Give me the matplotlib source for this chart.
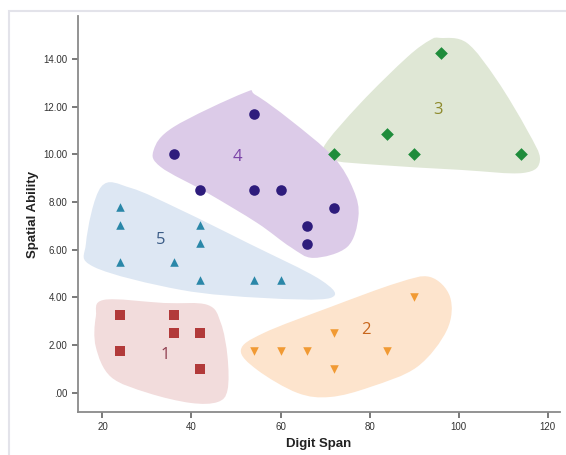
import numpy as np
import matplotlib
matplotlib.use("Agg")
import matplotlib.pyplot as plt
from matplotlib.path import Path
from matplotlib.patches import PathPatch, Rectangle
from matplotlib.ticker import FuncFormatter

# ---- data ----
c1_x = [24, 36, 36, 42, 24, 42]
c1_y = [3.25, 3.25, 2.5, 2.5, 1.75, 1.0]
c2_x = [54, 60, 66, 72, 72, 84, 90]
c2_y = [1.75, 1.75, 1.75, 2.5, 1.0, 1.75, 4.0]
c3_x = [72, 84, 90, 96, 114]
c3_y = [10.0, 10.85, 10.0, 14.25, 10.0]
c4_x = [54, 36, 42, 54, 60, 72, 66, 66]
c4_y = [11.7, 10.0, 8.5, 8.5, 8.5, 7.75, 7.0, 6.25]
c5_x = [24, 24, 42, 42, 24, 36, 42, 54, 60]
c5_y = [7.8, 7.05, 7.05, 6.3, 5.5, 5.5, 4.75, 4.75, 4.75]

cluster_labels = ["1", "2", "3", "4", "5"]
label_x = [34.2, 79.1, 95.4, 50.4, 33.1]
label_y = [1.6, 2.64, 11.86, 9.89, 6.41]

# region outlines
r1_x = [20.3, 33.8, 43.6, 46.6, 48.1, 48.1, 45.9, 39.8, 30.2, 21.9, 18.5, 18.5]
r1_y = [3.90, 3.77, 3.69, 2.93, 1.51, 0.13, -0.38, -0.42, 0.0, 0.67, 1.93, 3.19]
r2_x = [51.1, 56.2, 71.2, 86.2, 93.6, 98.1, 97.4, 90.7, 80.2, 71.2, 63.8, 54.8]
r2_y = [1.80, 2.51, 3.60, 4.61, 4.86, 4.02, 2.64, 1.09, 0.25, -0.17, 0.0, 0.96]
r3_x = [95.9, 101.9, 108.6, 115.4, 118.3, 114.5, 100.4, 81.8, 71.3, 69.7, 78.0, 88.5, 93.6]
r3_y = [14.88, 14.67, 13.12, 11.02, 9.77, 9.22, 9.35, 9.56, 9.77, 10.31, 12.15, 14.08, 14.79]
r4_x = [51.7, 36.0, 31.5, 33.1, 43.6, 54.8, 62.2, 67.4, 75.0, 77.5, 76.4, 71.9, 62.2, 54.4]
r4_y = [12.57, 11.15, 10.18, 9.47, 8.38, 7.12, 6.12, 5.66, 6.12, 7.38, 8.51, 9.89, 11.44, 12.49]
r5_x = [19.7, 16.3, 18.1, 37.6, 56.2, 71.2, 69.0, 52.6, 37.6, 26.4]
r5_y = [8.64, 6.29, 5.28, 4.32, 3.98, 3.98, 4.74, 6.29, 7.67, 8.59]

x_ticks = [20, 40, 60, 80, 100, 120]
y_ticks = [0, 2, 4, 6, 8, 10, 12, 14]

# ---- styling ----
plt.rcParams['font.family'] = ['Liberation Sans', 'DejaVu Sans']

fig = plt.figure(figsize=(5.66, 4.55), dpi=100)
fig.patches.append(Rectangle((9/566, -0.05), 1.2, 1 - 11/455 + 0.05,
                             transform=fig.transFigure, fill=False,
                             edgecolor='#e3e3ea', linewidth=1.5))
ax = fig.add_axes([78/566, 1 - 412/455, 482/566, (412 - 16)/455])


def smooth_region(ax, xs, ys, color):
    pts = np.column_stack([xs, ys])
    n = len(pts)
    verts = [pts[0]]
    codes = [Path.MOVETO]
    for i in range(n):
        p0 = pts[(i - 1) % n]
        p1 = pts[i]
        p2 = pts[(i + 1) % n]
        p3 = pts[(i + 2) % n]
        c1 = p1 + (p2 - p0) / 6.0
        c2 = p2 - (p3 - p1) / 6.0
        verts += [c1, c2, p2]
        codes += [Path.CURVE4] * 3
    ax.add_patch(PathPatch(Path(verts, codes), facecolor=color,
                           edgecolor='none', zorder=1))


region_colors = ['#f2dcdc', '#fde4cd', '#dfe7d5', '#dccbe8', '#dde7f3']
for (rx, ry), col in zip([(r1_x, r1_y), (r2_x, r2_y), (r3_x, r3_y),
                          (r4_x, r4_y), (r5_x, r5_y)], region_colors):
    smooth_region(ax, rx, ry, col)

ax.scatter(c1_x, c1_y, marker='s', s=48, color='#b23a3a', zorder=3, linewidths=0)
ax.scatter(c2_x, c2_y, marker='v', s=38, color='#f19a34', zorder=3, linewidths=0)
ax.scatter(c3_x, c3_y, marker='D', s=42, color='#1f8c3b', zorder=3, linewidths=0)
ax.scatter(c4_x, c4_y, marker='o', s=58, color='#2e1c7c', zorder=3, linewidths=0)
ax.scatter(c5_x, c5_y, marker='^', s=38, color='#2a87a8', zorder=3, linewidths=0)

label_colors = ['#8e3a4c', '#c8661c', '#8d8a2c', '#7b44a8', '#3b5c86']
for t, x, y, c in zip(cluster_labels, label_x, label_y, label_colors):
    ax.text(x, y, t, color=c, fontsize=12, ha='center', va='center',
            family=['Open Sans', 'DejaVu Sans'], zorder=4)

ax.set_xlim(14.5, 122.8)
ax.set_ylim(-0.8, 15.8)
ax.set_xticks(x_ticks)
ax.set_yticks(y_ticks)


def yfmt(v, pos):
    s = f"{v:.2f}"
    return s[1:] if s.startswith("0") else s


ax.yaxis.set_major_formatter(FuncFormatter(yfmt))
for s in ['top', 'right']:
    ax.spines[s].set_visible(False)
for s in ['left', 'bottom']:
    ax.spines[s].set_color('#8a8a8a')
    ax.spines[s].set_linewidth(1.3)
ax.tick_params(axis='both', colors='#555555', labelcolor='#333333',
               labelsize=7, length=4, width=1.1, direction='out')
ax.set_xlabel('Digit Span', fontsize=9.5, fontweight='bold', color='#222222', labelpad=4)
ax.set_ylabel('Spatial Ability', fontsize=9.5, fontweight='bold', color='#222222', labelpad=3)

fig.savefig('out.png', dpi=100)
